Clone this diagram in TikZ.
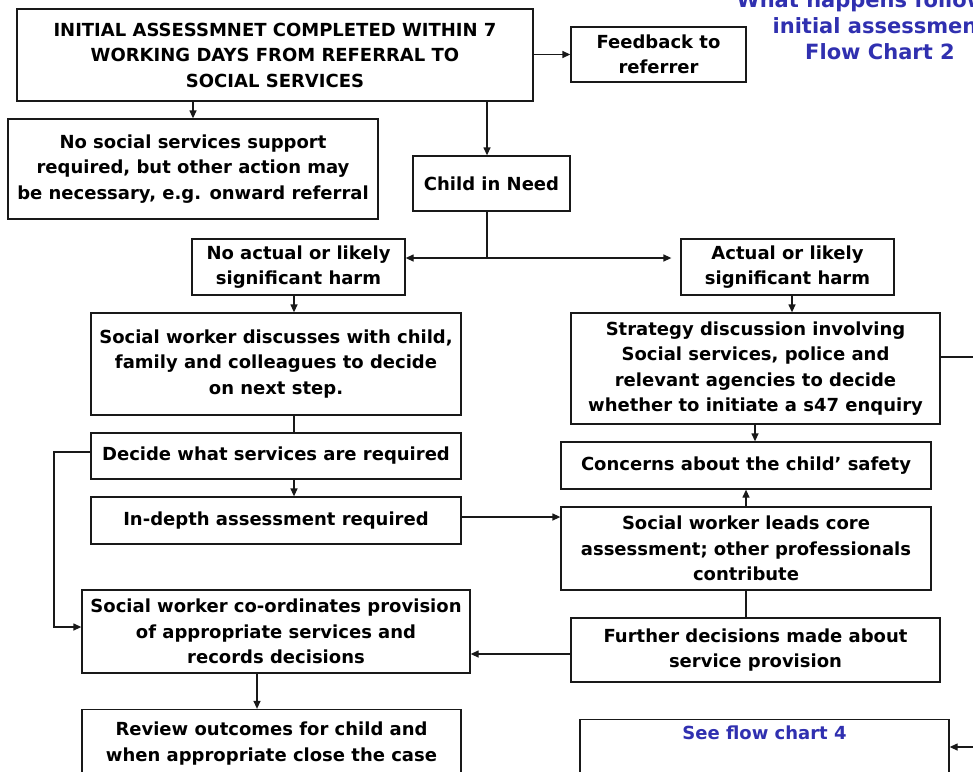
\documentclass[tikz,border=0pt]{standalone}
\usepackage{fontspec}
\setmainfont{DejaVu Sans}
\usetikzlibrary{arrows.meta}
\definecolor{chartblue}{RGB}{48,48,176}
\definecolor{ink}{RGB}{25,25,25}
\begin{document}
\begin{tikzpicture}[x=1pt,y=-1pt,
  box/.style={draw=ink, line width=1.3pt, rectangle, inner sep=0pt, align=center,
    text=black, font=\fontsize{18}{25.5}\selectfont\bfseries},
  arr/.style={draw=ink, line width=1.3pt, -{Triangle[length=8pt,width=7pt]}},
  link/.style={draw=ink, line width=1.3pt},
  heading/.style={text=chartblue, align=center, font=\fontsize{21}{26}\selectfont\bfseries}]
\useasboundingbox (0,0) rectangle (973,771);
\fill[white] (0,0) rectangle (973,771);
\clip (0,0) rectangle (973,771);

% title
\node[heading] (title) at (880,26) {What happens following\\initial assessment\\Flow Chart 2};

% left column
\node[box, minimum width=516, minimum height=92] (init) at (275,55)
  {INITIAL ASSESSMNET COMPLETED WITHIN 7\\WORKING DAYS FROM REFERRAL TO\\SOCIAL SERVICES};
\node[box, minimum width=175, minimum height=55] (feed) at (658.5,54.5) {Feedback to\\referrer};
\node[box, minimum width=370, minimum height=100] (nosup) at (193,169)
  {No social services support\\required, but other action may\\be necessary, e.g. onward referral};
\node[box, minimum width=157, minimum height=55] (cin) at (491.5,183.5) {Child in Need};
\node[box, minimum width=213, minimum height=56] (noharm) at (298.5,267) {No actual or likely\\significant harm};
\node[box, minimum width=213, minimum height=56] (harm) at (787.5,267) {Actual or likely\\significant harm};
\node[box, minimum width=370, minimum height=102] (disc) at (276,364)
  {Social worker discusses with child,\\family and colleagues to decide\\on next step.};
\node[box, minimum width=370, minimum height=46] (decide) at (276,456) {Decide what services are required};
\node[box, minimum width=370, minimum height=47] (indepth) at (276,520.5) {In-depth assessment required};
\node[box, minimum width=388, minimum height=83] (coord) at (276,631.5)
  {Social worker co-ordinates provision\\of appropriate services and\\records decisions};
\node[box, minimum width=379, minimum height=68] (review) at (271.5,743.5)
  {Review outcomes for child and\\when appropriate close the case};

% right column
\node[box, minimum width=369, minimum height=111] (strat) at (755.5,368.5)
  {Strategy discussion involving\\Social services, police and\\relevant agencies to decide\\whether to initiate a s47 enquiry};
\node[box, minimum width=370, minimum height=47] (concern) at (746,465.5) {Concerns about the child’ safety};
\node[box, minimum width=370, minimum height=83] (leads) at (746,548.5)
  {Social worker leads core\\assessment; other professionals\\contribute};
\node[box, minimum width=369, minimum height=64] (further) at (755.5,650)
  {Further decisions made about\\service provision};
\node[box, anchor=north, minimum width=369, text height=14pt, text depth=52pt, inner ysep=6pt,
  text=chartblue] (see) at (764.5,719) {See flow chart 4};

% routing points
\coordinate (colA) at (487,0);
\coordinate (split) at (487,258);
\coordinate (colB) at (294,0);
\coordinate (colC) at (257,0);
\coordinate (loopL) at (54,0);
\coordinate (rowLoopTop) at (0,452);
\coordinate (rowLoopBot) at (0,627);
\coordinate (rowIn) at (0,517);
\coordinate (rowFur) at (0,654);
\coordinate (colH) at (792,0);
\coordinate (colS) at (755,0);
\coordinate (colL) at (746,0);
\coordinate (rightOut) at (990,357);
\coordinate (rightIn) at (990,747);

% connectors
\draw[arr] (init.south -| nosup.north) -- (nosup.north);
\draw[arr] (init.south -| colA) -- (cin.north -| colA);
\draw[arr] (init.east |- feed.west) -- (feed.west);
\draw[link] (cin.south -| split) -- (split);
\draw[arr] (split) -- (split -| noharm.east);
\draw[arr, shorten >=9pt] (split) -- (split -| harm.west);
\draw[arr] (noharm.south -| colB) -- (disc.north -| colB);
\draw[link] (disc.south -| colB) -- (decide.north -| colB);
\draw[arr] (decide.south -| colB) -- (indepth.north -| colB);
\draw[arr] (decide.west |- rowLoopTop) -- (loopL |- rowLoopTop) -- (loopL |- rowLoopBot) -- (coord.west |- rowLoopBot);
\draw[arr] (indepth.east |- rowIn) -- (leads.west |- rowIn);
\draw[arr] (further.west |- rowFur) -- (coord.east |- rowFur);
\draw[arr] (coord.south -| colC) -- (review.north -| colC);
\draw[arr] (harm.south -| colH) -- (strat.north -| colH);
\draw[arr] (strat.south -| colS) -- (concern.north -| colS);
\draw[arr] (leads.north -| colL) -- (concern.south -| colL);
\draw[link] (leads.south -| colL) -- (further.north -| colL);
\draw[link] (strat.east |- rightOut) -- (rightOut);
\draw[arr] (rightIn) -- (see.east |- rightIn);
\end{tikzpicture}
\end{document}
